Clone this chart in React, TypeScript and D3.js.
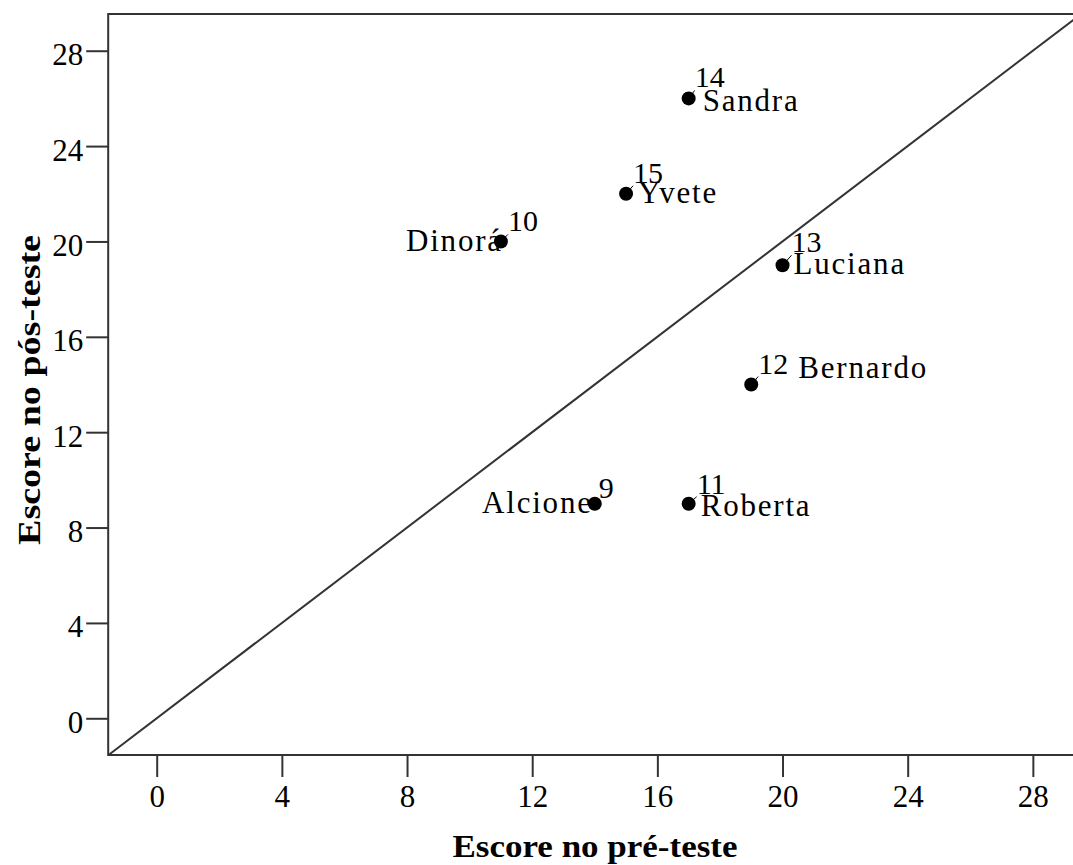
import React, { useEffect, useRef } from 'react';
import * as d3 from 'd3';

// scores per student
const names = ['Alcione', 'Dinorá', 'Roberta', 'Bernardo', 'Luciana', 'Sandra', 'Yvete'];
const ids = [9, 10, 11, 12, 13, 14, 15];
const preTest = [14, 11, 17, 19, 20, 17, 15];
const postTest = [9, 20, 9, 14, 19, 26, 22];
const tickValues = [0, 4, 8, 12, 16, 20, 24, 28];

// label placement (pixels from the point): [nameDx, nameDy, anchor, idDx, idDy]
const labelPlacement: [number, number, string, number, number][] = [
  [-2, 9, 'end', 4, -6],
  [2, 10, 'end', 7, -10],
  [12, 12, 'start', 8, -10],
  [47, -7, 'start', 7, -11],
  [11, 9, 'start', 9, -13],
  [14, 13, 'start', 6, -11],
  [12, 9, 'start', 7, -11],
];

const W = 1073;
const H = 865;
const FONT = '"Liberation Serif", "Times New Roman", serif';
const INK = '#000';

export default function App() {
  const ref = useRef<SVGSVGElement | null>(null);

  useEffect(() => {
    const svg = d3.select(ref.current);
    svg.selectAll('*').remove();

    const x = d3.scaleLinear().domain([-1.55, 29.5]).range([108.2, 1079.8]);
    const y = d3.scaleLinear().domain([-1.54, 29.54]).range([755, 14]);

    // frame
    svg
      .append('rect')
      .attr('x', x.range()[0])
      .attr('y', y.range()[1])
      .attr('width', x.range()[1] - x.range()[0])
      .attr('height', y.range()[0] - y.range()[1])
      .attr('fill', 'none')
      .attr('stroke', '#333')
      .attr('stroke-width', 2);

    // x axis
    const xAxis = svg
      .append('g')
      .attr('transform', `translate(0,${y.range()[0]})`)
      .call(d3.axisBottom(x).tickValues(tickValues).tickSize(22).tickPadding(8).tickSizeOuter(0));
    xAxis.select('.domain').remove();
    xAxis.selectAll('line').attr('stroke', '#333').attr('stroke-width', 2);
    xAxis
      .selectAll('text')
      .attr('font-family', FONT)
      .attr('font-size', 31)
      .attr('fill', INK);

    // y axis
    const yAxis = svg
      .append('g')
      .attr('transform', `translate(${x.range()[0]},0)`)
      .call(d3.axisLeft(y).tickValues(tickValues).tickSize(22).tickPadding(3).tickSizeOuter(0));
    yAxis.select('.domain').remove();
    yAxis.selectAll('line').attr('stroke', '#333').attr('stroke-width', 2);
    yAxis
      .selectAll('text')
      .attr('font-family', FONT)
      .attr('font-size', 31)
      .attr('dy', '0.45em')
      .attr('fill', INK);

    // reference line y = x
    const d0 = x.domain()[0];
    const d1 = x.domain()[1];
    svg
      .append('line')
      .attr('x1', x(d0))
      .attr('y1', y(d0))
      .attr('x2', x(d1))
      .attr('y2', y(d1))
      .attr('stroke', '#333')
      .attr('stroke-width', 2);

    const data = names.map((n, i) => ({
      name: n,
      id: ids[i],
      pre: preTest[i],
      post: postTest[i],
      place: labelPlacement[i],
    }));

    const g = svg.append('g');

    // small leader lines to the case numbers
    g.selectAll('.leader')
      .data(data)
      .enter()
      .append('line')
      .attr('x1', (d) => x(d.pre))
      .attr('y1', (d) => y(d.post))
      .attr('x2', (d) => x(d.pre) + d.place[3])
      .attr('y2', (d) => y(d.post) + d.place[4] + 3)
      .attr('stroke', INK)
      .attr('stroke-width', 1);

    g.selectAll('circle')
      .data(data)
      .enter()
      .append('circle')
      .attr('cx', (d) => x(d.pre))
      .attr('cy', (d) => y(d.post))
      .attr('r', 7)
      .attr('fill', '#000');

    g.selectAll('.name')
      .data(data)
      .enter()
      .append('text')
      .attr('x', (d) => x(d.pre) + d.place[0])
      .attr('y', (d) => y(d.post) + d.place[1])
      .attr('text-anchor', (d) => d.place[2])
      .attr('font-family', FONT)
      .attr('font-size', 31)
      .attr('letter-spacing', 1.8)
      .attr('fill', INK)
      .text((d) => d.name);

    g.selectAll('.id')
      .data(data)
      .enter()
      .append('text')
      .attr('x', (d) => x(d.pre) + d.place[3])
      .attr('y', (d) => y(d.post) + d.place[4])
      .attr('font-family', FONT)
      .attr('font-size', 30)
      .attr('fill', INK)
      .text((d) => d.id);

    // axis titles
    svg
      .append('text')
      .attr('x', 595)
      .attr('y', 857)
      .attr('text-anchor', 'middle')
      .attr('font-family', FONT)
      .attr('font-weight', 'bold')
      .attr('font-size', 31)
      .attr('textLength', 285)
      .attr('lengthAdjust', 'spacingAndGlyphs')
      .attr('fill', INK)
      .text('Escore no pré-teste');

    svg
      .append('text')
      .attr('transform', 'translate(40,390) rotate(-90)')
      .attr('text-anchor', 'middle')
      .attr('font-family', FONT)
      .attr('font-weight', 'bold')
      .attr('font-size', 31)
      .attr('textLength', 310)
      .attr('lengthAdjust', 'spacingAndGlyphs')
      .attr('fill', INK)
      .text('Escore no pós-teste');
  }, []);

  return (
    <svg
      ref={ref}
      width={W}
      height={H}
      style={{ position: 'absolute', left: 0, top: 0, background: '#fff' }}
    />
  );
}
